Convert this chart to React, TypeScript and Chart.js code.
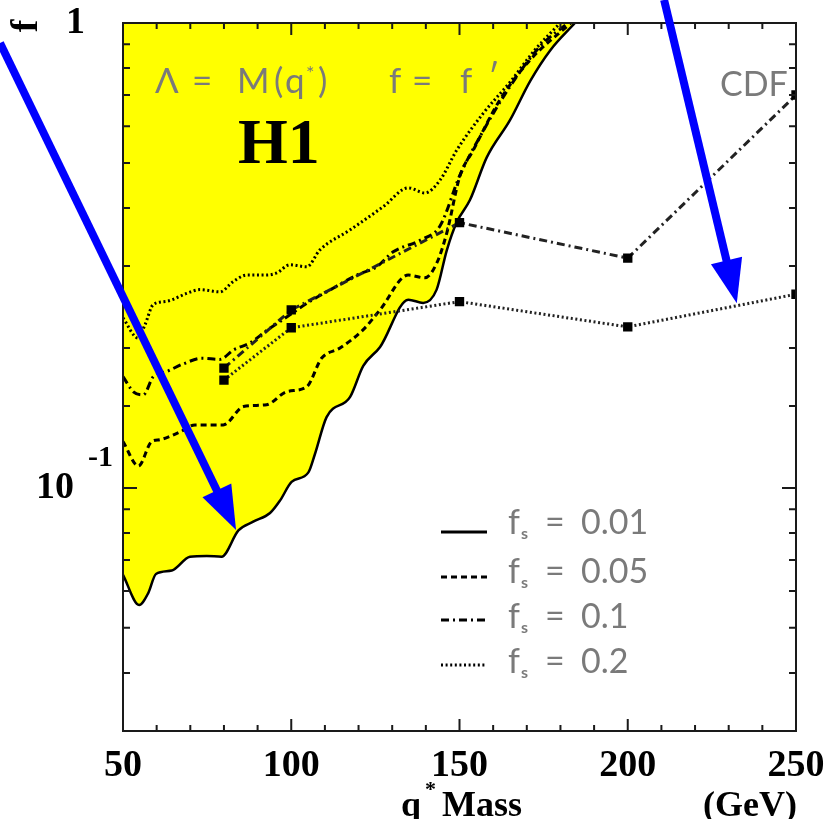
import React, { useEffect, useRef } from 'react';
import { Chart, registerables } from 'chart.js';

Chart.register(...registerables);

// ---- H1 limit curves (f_s values) ----
const solidX = [50, 54.8, 57.5, 59.8, 64.5, 69.9, 74.9, 79.3, 84.3, 88.7, 93.7, 96.7, 100.1, 105.1, 107, 110.5, 117.5, 121.4, 126.4, 134.8, 139.2, 143.2, 146.2, 149.2, 153.1, 158.1, 165, 171, 177, 184.3];
const solidY = [0.065, 0.056, 0.0594, 0.0653, 0.0664, 0.0711, 0.0714, 0.0711, 0.081, 0.0846, 0.0883, 0.094, 0.103, 0.108, 0.118, 0.142, 0.157, 0.183, 0.201, 0.254, 0.25, 0.267, 0.324, 0.373, 0.416, 0.514, 0.618, 0.75, 0.874, 1.0];

const dashX = [50, 54.6, 58.5, 61, 67, 71.4, 79.8, 85.8, 92.7, 98.6, 104.6, 109, 114.5, 121.4, 126.4, 134.8, 139.7, 143.2, 146.2, 150.1, 154.1, 162, 171, 183.1];
const dashY = [0.1258, 0.1115, 0.1258, 0.127, 0.132, 0.1366, 0.1366, 0.1496, 0.151, 0.161, 0.165, 0.19, 0.2, 0.219, 0.2417, 0.287, 0.283, 0.304, 0.353, 0.468, 0.533, 0.683, 0.833, 1.0];

const dashDotX = [50, 53.1, 56, 59, 63, 67.9, 73.4, 78.8, 82.8, 87.7, 92.7, 96.7, 105.6, 110.5, 119.5, 125.4, 130.3, 138.3, 144.2, 150.1, 156.1, 165, 173.9, 182.2];
const dashDotY = [0.1735, 0.161, 0.1585, 0.1735, 0.178, 0.1848, 0.19, 0.189, 0.198, 0.205, 0.218, 0.228, 0.252, 0.264, 0.287, 0.299, 0.322, 0.341, 0.366, 0.47, 0.57, 0.73, 0.89, 1.0];

const dotX = [50, 54.5, 56.5, 59, 63, 68.9, 72.9, 78.8, 82.8, 86.8, 92.7, 95.7, 99.6, 104.6, 108.5, 117.5, 127.4, 134.8, 139.7, 144.2, 149.2, 157.1, 165, 172.4, 179.9];
const dotY = [0.232, 0.21, 0.224, 0.248, 0.252, 0.262, 0.267, 0.264, 0.278, 0.287, 0.287, 0.29, 0.302, 0.299, 0.325, 0.359, 0.403, 0.442, 0.431, 0.459, 0.533, 0.64, 0.746, 0.875, 1.0];

// ---- CDF limits ----
const cdfX = [80, 100, 150, 200, 250];
const cdfDashDotY = [0.181, 0.2415, 0.372, 0.312, 0.70];
const cdfDottedY = [0.1706, 0.221, 0.2516, 0.222, 0.261];

// ---- axis ----
const xTickLabels = ['50', '100', '150', '200', '250'];
const legendLabels = ['0.01', '0.05', '0.1', '0.2'];

// ---- arrows (data coordinates: [x0, y0, x1, y1]) ----
const arrow1 = [13.45, 0.906, 83.6, 0.0812];
const arrow2 = [210.8, 1.121, 232.4, 0.2495];

const SOLID: number[] = [];
const DASH = [6, 4];
const DASHDOT = [8, 4, 2, 4];
const DOT = [2, 2.6];

const pts = (xs: number[], ys: number[]) => xs.map((x, i) => ({ x, y: ys[i] }));

const SERIF = '"Liberation Serif", "Times New Roman", serif';
const SANS = 'Lato, "Liberation Sans", sans-serif';
const GRAY = '#7a7a7a';

function drawArrow(ctx: CanvasRenderingContext2D, x0: number, y0: number, x1: number, y1: number) {
  const dx = x1 - x0, dy = y1 - y0;
  const L = Math.hypot(dx, dy);
  const ux = dx / L, uy = dy / L;
  const headLen = 44, headHalf = 16;
  const bx = x1 - ux * headLen, by = y1 - uy * headLen;
  ctx.save();
  ctx.strokeStyle = '#0000ff';
  ctx.fillStyle = '#0000ff';
  ctx.lineWidth = 8;
  ctx.lineCap = 'butt';
  ctx.beginPath();
  ctx.moveTo(x0, y0);
  ctx.lineTo(bx + ux * 2, by + uy * 2);
  ctx.stroke();
  ctx.beginPath();
  ctx.moveTo(x1, y1);
  ctx.lineTo(bx - uy * headHalf, by + ux * headHalf);
  ctx.lineTo(bx + uy * headHalf, by - ux * headHalf);
  ctx.closePath();
  ctx.fill();
  ctx.restore();
}

const overlay = {
  id: 'overlay',
  afterDatasetsDraw(chart: any) {
    const { ctx, chartArea: ca, scales } = chart;
    const xs = scales.x, ys = scales.y;
    ctx.save();
    // frame
    ctx.strokeStyle = '#1a1a1a';
    ctx.lineWidth = 2;
    ctx.strokeRect(ca.left, ca.top, ca.right - ca.left, ca.bottom - ca.top);
    // ticks (inward)
    ctx.lineWidth = 2;
    ctx.beginPath();
    xs.ticks.forEach((t: any) => {
      const px = xs.getPixelForValue(t.value);
      const len = t.value % 50 === 0 ? 12 : 6;
      ctx.moveTo(px, ca.bottom); ctx.lineTo(px, ca.bottom - len);
      ctx.moveTo(px, ca.top); ctx.lineTo(px, ca.top + len);
    });
    ys.ticks.forEach((t: any) => {
      const py = ys.getPixelForValue(t.value);
      const lg = Math.log10(t.value);
      const major = Math.abs(lg - Math.round(lg)) < 1e-6;
      const len = major ? 14 : 7;
      ctx.moveTo(ca.left, py); ctx.lineTo(ca.left + len, py);
      ctx.moveTo(ca.right, py); ctx.lineTo(ca.right - len, py);
    });
    ctx.stroke();

    // in-plot texts
    ctx.fillStyle = GRAY;
    ctx.textBaseline = 'alphabetic';
    ctx.textAlign = 'left';
    ctx.font = `400 35px ${SANS}`;
    const base = 93;
    ctx.fillText('\u039B', 155, base);
    ctx.fillText('=', 192, base);
    ctx.fillText('M', 237, base);
    ctx.fillText('(', 274, base);
    ctx.fillText('q', 285, base);
    ctx.font = `400 20px ${SANS}`;
    ctx.fillText('*', 306, 80);
    ctx.font = `400 35px ${SANS}`;
    ctx.fillText(')', 318, base);
    ctx.fillText('f', 389, base);
    ctx.fillText('=', 412, base);
    ctx.fillText('f', 460, base);
    ctx.fillText('\u2032', 488, base - 4);
    ctx.font = `400 34px ${SANS}`;
    ctx.fillText('CDF', 720, 96);

    ctx.fillStyle = '#000';
    ctx.font = `bold 64px ${SERIF}`;
    ctx.fillText('H1', 238, 163);

    // legend
    const lineY = [532, 577, 620, 665];
    const baseY = [534, 583, 628, 673];
    const dashes = [SOLID, DASH, DASHDOT, DOT];
    legendLabels.forEach((lab, i) => {
      ctx.save();
      ctx.strokeStyle = '#000';
      ctx.lineWidth = 3;
      ctx.setLineDash(dashes[i]);
      ctx.beginPath();
      ctx.moveTo(441, lineY[i]);
      ctx.lineTo(487, lineY[i]);
      ctx.stroke();
      ctx.restore();
      ctx.fillStyle = GRAY;
      ctx.font = `400 34px ${SANS}`;
      ctx.fillText('f', 508, baseY[i]);
      ctx.fillText('=', 545, baseY[i]);
      ctx.fillText(lab, 581, baseY[i]);
      ctx.font = `bold 16px ${SANS}`;
      ctx.fillText('s', 521, baseY[i] + 5);
    });
    ctx.restore();
  },
  afterDraw(chart: any) {
    const { ctx, chartArea: ca, scales } = chart;
    const xs = scales.x, ys = scales.y;
    ctx.save();
    ctx.fillStyle = '#000';
    // y tick labels
    ctx.font = `bold 38px ${SERIF}`;
    ctx.textBaseline = 'middle';
    ctx.textAlign = 'right';
    ctx.fillText('1', ca.left - 38, ys.getPixelForValue(1));
    ctx.fillText('10', ca.left - 49, ys.getPixelForValue(0.1));
    ctx.font = `bold 30px ${SERIF}`;
    ctx.textAlign = 'left';
    ctx.fillText('-1', ca.left - 35, ys.getPixelForValue(0.1) - 30);
    // y title (rotated f)
    ctx.save();
    ctx.translate(27, 26);
    ctx.rotate(-Math.PI / 2);
    ctx.font = `bold 38px ${SERIF}`;
    ctx.textAlign = 'center';
    ctx.textBaseline = 'middle';
    ctx.fillText('f', 0, 0);
    ctx.restore();
    // x title
    ctx.textBaseline = 'alphabetic';
    ctx.textAlign = 'left';
    ctx.font = `bold 36px ${SERIF}`;
    ctx.fillText('q', 401, 816);
    ctx.fillText('Mass', 442, 816);
    ctx.fillText('(GeV)', 703, 816);
    ctx.font = `bold 22px ${SERIF}`;
    ctx.fillText('*', 425, 796);
    // arrows
    [arrow1, arrow2].forEach((a) => {
      drawArrow(ctx, xs.getPixelForValue(a[0]), ys.getPixelForValue(a[1]), xs.getPixelForValue(a[2]), ys.getPixelForValue(a[3]));
    });
    ctx.restore();
  },
};

export default function App() {
  const ref = useRef<HTMLCanvasElement | null>(null);
  useEffect(() => {
    if (!ref.current) return;
    const common = { pointRadius: 0, borderColor: '#000', cubicInterpolationMode: 'monotone', tension: 0.4 };
    const chart = new Chart(ref.current, {
      type: 'line',
      data: {
        datasets: [
          { ...common, label: 'fs=0.01', data: pts(solidX, solidY), borderWidth: 2.5, borderDash: SOLID, fill: 'end', backgroundColor: '#ffff00', order: 5 },
          { ...common, label: 'fs=0.05', data: pts(dashX, dashY), borderWidth: 3, borderDash: DASH, fill: false, order: 4 },
          { ...common, label: 'fs=0.1', data: pts(dashDotX, dashDotY), borderWidth: 3, borderDash: DASHDOT, fill: false, order: 3 },
          { ...common, label: 'fs=0.2', data: pts(dotX, dotY), borderWidth: 3, borderDash: DOT, fill: false, order: 2 },
          { label: 'CDF 0.1', data: pts(cdfX, cdfDashDotY), borderColor: '#222', borderWidth: 3, borderDash: DASHDOT, tension: 0, fill: false, pointStyle: 'rect', pointRadius: 4.5, pointBackgroundColor: '#000', pointBorderColor: '#000', order: 1 },
          { label: 'CDF 0.2', data: pts(cdfX, cdfDottedY), borderColor: '#222', borderWidth: 3, borderDash: DOT, tension: 0, fill: false, pointStyle: 'rect', pointRadius: 4.5, pointBackgroundColor: '#000', pointBorderColor: '#000', order: 1 },
        ] as any,
      },
      options: {
        animation: false,
        responsive: false,
        devicePixelRatio: 1,
        layout: { padding: { top: 23, right: 33, left: 0, bottom: 0 } },
        plugins: { legend: { display: false }, tooltip: { enabled: false }, title: { display: false } },
        scales: {
          x: {
            type: 'linear',
            min: 50,
            max: 250,
            grid: { display: false },
            border: { display: false },
            ticks: {
              stepSize: 10,
              autoSkip: false,
              maxRotation: 0,
              padding: 4,
              color: '#000',
              font: { family: SERIF, size: 38, weight: 'bold' },
              callback: (v: any) => (xTickLabels.includes(String(v)) ? String(v) : ''),
            },
            afterFit: (s: any) => { s.height = 88; },
          },
          y: {
            type: 'logarithmic',
            min: 0.03,
            max: 1,
            grid: { display: false },
            border: { display: false },
            ticks: { display: false },
            afterFit: (s: any) => { s.width = 123; },
          },
        },
      } as any,
      plugins: [overlay],
    });
    return () => chart.destroy();
  }, []);
  return (
    <div style={{ position: 'absolute', left: 0, top: 0, width: 829, height: 819, background: '#fff' }}>
      <canvas ref={ref} width={829} height={819} />
    </div>
  );
}
